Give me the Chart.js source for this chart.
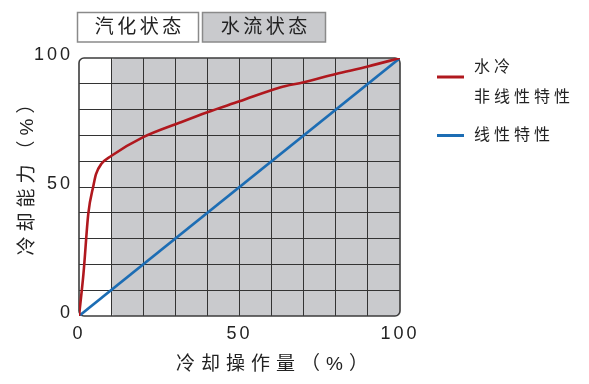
<!DOCTYPE html>
<html>
<head>
<meta charset="utf-8">
<script src="https://cdn.jsdelivr.net/npm/chart.js@4/dist/chart.umd.min.js"></script>
<style>
html,body{margin:0;padding:0;background:#fff;}
#wrap{width:589px;height:384px;}
</style>
</head>
<body>
<div id="wrap"><canvas id="c" width="589" height="384"></canvas></div>
<script>
// ---- data ----
const redX = [0, 1.4, 2.9, 4.5, 5.3, 7, 10, 20, 31.5, 40, 50, 62.6, 70, 80, 90, 100];
const redY = [0, 16.5, 39.7, 50.6, 55, 59, 62, 69.3, 75, 79, 83.2, 88.6, 90.6, 93.8, 96.7, 100];
const blueX = [0, 100];
const blueY = [0, 100];
const seriesLabels = [["水冷", "非线性特性"], ["线性特性"]];
const stateLabels = ["汽化状态", "水流状态"];
const regionBounds = [0, 10, 100];
const tickLabelValues = [0, 50, 100];
const xTitle = "冷却操作量（%）";
const yTitle = "冷却能力（%）";

const RED = '#b0181e', BLUE = '#1c6db4', GREY = '#c9cacd';
const FONT = '"Liberation Sans", "Noto Sans CJK SC", sans-serif';

function drawSpaced(ctx, text, x, y, spacing, align) {
  ctx.letterSpacing = spacing + 'px';
  const w = ctx.measureText(text).width - spacing;
  let sx = x;
  if (align === 'center') sx = x - w / 2;
  else if (align === 'right') sx = x - w;
  ctx.textAlign = 'left';
  ctx.fillText(text, sx, y);
}

const decor = {
  id: 'decor',
  beforeDraw(chart) {
    const {ctx, chartArea: a, scales: {x}} = chart;
    ctx.save();
    const x1 = x.getPixelForValue(regionBounds[1]);
    ctx.fillStyle = '#fff';
    ctx.beginPath(); ctx.roundRect(a.left, a.top, x1 - a.left, a.bottom - a.top, 5); ctx.fill();
    ctx.fillStyle = GREY;
    ctx.beginPath(); ctx.roundRect(x1, a.top, x.getPixelForValue(regionBounds[2]) - x1, a.bottom - a.top, 5); ctx.fill();
    ctx.restore();
    ctx.letterSpacing = '3px';
  },
  beforeDatasetsDraw(chart) {
    const {ctx, chartArea: a} = chart;
    ctx.save();
    ctx.strokeStyle = '#3c3c3c'; ctx.lineWidth = 1.6;
    ctx.beginPath(); ctx.roundRect(a.left, a.top, a.right - a.left, a.bottom - a.top, 5); ctx.stroke();
    ctx.restore();
  },
  afterDraw(chart) {
    const {ctx} = chart;
    ctx.save();
    ctx.textBaseline = 'middle';
    ctx.fillStyle = '#222';
    // axis titles
    ctx.font = '19px ' + FONT;
    drawSpaced(ctx, xTitle, 272, 365, 6, 'center');
    ctx.save();
    ctx.translate(28, 175);
    ctx.rotate(-Math.PI / 2);
    drawSpaced(ctx, yTitle, 0, 0, 5, 'center');
    ctx.restore();
    // state header boxes
    const boxes = [[77.5, 198.5, '#fff'], [202.5, 325.5, GREY]];
    ctx.font = '19px ' + FONT;
    boxes.forEach((b, i) => {
      ctx.fillStyle = b[2];
      ctx.fillRect(b[0], 12.5, b[1] - b[0], 29.5);
      ctx.strokeStyle = '#8a8a8a'; ctx.lineWidth = 1.5;
      ctx.strokeRect(b[0], 12.5, b[1] - b[0], 29.5);
      ctx.fillStyle = '#222';
      drawSpaced(ctx, stateLabels[i], (b[0] + b[1]) / 2, 27.5, 3.5, 'center');
    });
    // legend
    const colors = [RED, BLUE];
    const lineY = [77, 135.5];
    const textY = [[67.5, 98], [135.5]];
    ctx.font = '16px ' + FONT;
    seriesLabels.forEach((lines, i) => {
      ctx.strokeStyle = colors[i]; ctx.lineWidth = 3;
      ctx.beginPath(); ctx.moveTo(437, lineY[i]); ctx.lineTo(464, lineY[i]); ctx.stroke();
      ctx.fillStyle = '#222';
      lines.forEach((t, j) => drawSpaced(ctx, t, 474, textY[i][j], 4, 'left'));
    });
    ctx.restore();
  }
};

const redData = redX.map((v, i) => ({x: v, y: redY[i]}));
const blueData = blueX.map((v, i) => ({x: v, y: blueY[i]}));

const gridColor = (c) => (c.tick && (c.tick.value === 0 || c.tick.value === 100)) ? 'rgba(0,0,0,0)' : '#333';
const tickCb = (v) => tickLabelValues.includes(v) ? String(v) : '';

new Chart(document.getElementById('c'), {
  type: 'line',
  data: {
    datasets: [
      {label: seriesLabels[0].join(''), data: redData, borderColor: RED, borderWidth: 2.6, pointRadius: 0, cubicInterpolationMode: 'monotone', fill: false},
      {label: seriesLabels[1].join(''), data: blueData, borderColor: BLUE, borderWidth: 2.6, pointRadius: 0, fill: false}
    ]
  },
  options: {
    responsive: false,
    animation: false,
    events: [],
    layout: {padding: {left: 0, right: 189, top: 58, bottom: 0}},
    plugins: {legend: {display: false}, tooltip: {enabled: false}},
    scales: {
      x: {
        type: 'linear', min: 0, max: 100,
        ticks: {stepSize: 10, autoSkip: false, maxRotation: 0, padding: 7, color: '#222', font: {size: 18, family: FONT}, callback: tickCb},
        grid: {color: gridColor, lineWidth: 1, drawTicks: false},
        border: {display: false},
        afterFit(s) { s.height = 68; }
      },
      y: {
        type: 'linear', min: 0, max: 100,
        ticks: {stepSize: 10, autoSkip: false, padding: 6, labelOffset: -3, color: '#222', font: {size: 18, family: FONT}, callback: tickCb},
        grid: {color: gridColor, lineWidth: 1, drawTicks: false},
        border: {display: false},
        afterFit(s) { s.width = 79; }
      }
    }
  },
  plugins: [decor]
});
</script>
</body>
</html>
